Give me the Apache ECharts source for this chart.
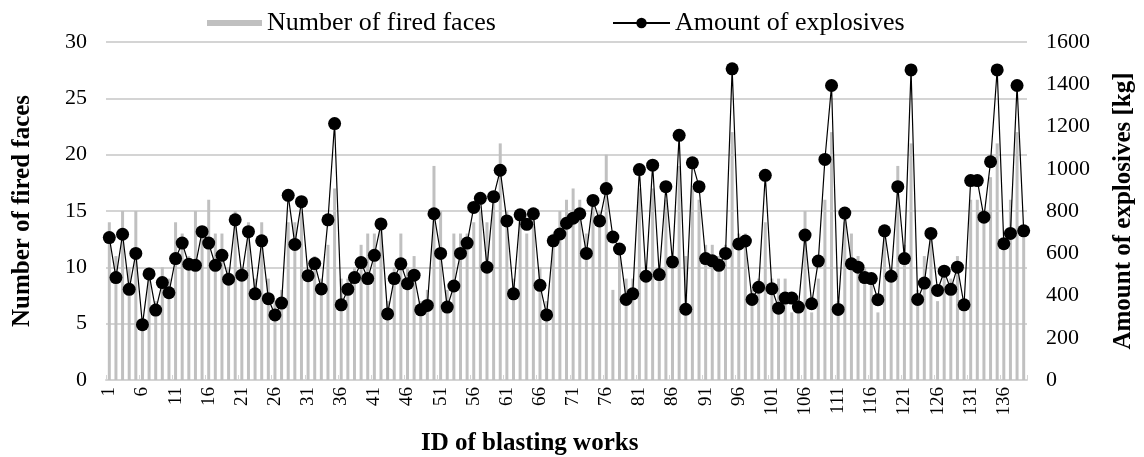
<!DOCTYPE html>
<html>
<head>
<meta charset="utf-8">
<script src="https://cdn.jsdelivr.net/npm/echarts@6/dist/echarts.min.js"></script>
<style>
html,body{margin:0;padding:0;background:#fff;}
#c{width:1144px;height:457px;}
</style>
</head>
<body>
<div id="c"></div>
<script>
// IDs of blasting works
const ids = Array.from({length: 139}, (_, i) => String(i + 1));

// Number of fired faces (left axis)
const firedFaces = [
14,11,15,10,15,5,10,7,10,9,
14,13,11,15,13,16,13,13,10,15,
10,14,9,14,9,7,8,14,14,15,
10,11,9,12,17,9,9,10,12,13,
13,14,7,10,13,10,11,7,8,19,
15,8,13,13,13,14,15,14,16,21,
15,9,15,13,15,10,7,13,15,16,
17,16,13,16,15,20,8,12,9,9,
17,10,17,10,16,11,19,11,17,16,
12,12,11,12,22,13,13,8,9,14,
9,9,9,6,7,15,6,9,16,22,
7,14,13,11,10,9,6,13,10,19,
12,21,8,11,13,7,10,9,11,7,
16,16,14,18,21,12,16,22,13
];

// Amount of explosives [kg] (right axis)
const explosives = [
674,485,690,429,599,262,502,331,461,413,
575,648,548,543,702,648,543,590,477,758,
496,702,408,659,385,308,364,874,642,844,
494,551,431,758,1214,356,429,485,556,480,
590,739,313,480,550,456,496,332,353,787,
599,345,445,599,648,817,860,534,868,993,
753,408,782,737,787,448,308,659,691,742,
766,787,599,850,753,906,677,620,381,408,
996,491,1017,499,915,559,1158,335,1028,915,
575,564,543,599,1473,644,658,381,439,969,
432,340,388,388,345,686,361,563,1044,1394,
334,790,550,534,485,480,380,706,491,915,
575,1468,381,459,694,424,515,429,534,356,
944,944,771,1033,1468,645,694,1394,706
];

const leftTicks = {min: 0, max: 30, interval: 5};
const rightTicks = {min: 0, max: 1600, interval: 200};

const FONT = '"Liberation Serif", "Times New Roman", serif';
const legendText = {fontFamily: FONT, fontSize: 26, color: '#000'};
const chart = echarts.init(document.getElementById('c'), null, {renderer: 'canvas'});
chart.setOption({
  animation: false,
  backgroundColor: '#ffffff',
  textStyle: {fontFamily: FONT, color: '#000'},
  legend: [
    {
      top: 10, left: 207, padding: 0,
      itemWidth: 55, itemHeight: 13,
      textStyle: legendText,
      data: [{name: 'Number of fired faces', icon: 'path://M0,0 H55 V6 H0 Z', itemStyle: {color: '#c0c0c0'}}]
    },
    {
      top: 10, left: 612, padding: 0,
      itemWidth: 57, itemHeight: 13,
      textStyle: legendText,
      data: [{name: 'Amount of explosives'}]
    }
  ],
  grid: {left: 106, right: 113, top: 42, bottom: 77},
  graphic: [{
    type: 'text',
    left: 421, top: 431,
    style: {text: 'ID of blasting works', font: 'bold 25px ' + FONT, fill: '#000'}
  }],
  xAxis: {
    type: 'category',
    data: ids,
    boundaryGap: true,
    axisLine: {show: true, lineStyle: {color: '#d4d4d4', width: 2}},
    axisTick: {show: true, interval: 4, inside: true, length: 5, lineStyle: {color: '#d4d4d4'}},
    axisLabel: {interval: 4, rotate: 90, fontFamily: FONT, fontSize: 19, color: '#000', margin: 7}
  },
  yAxis: [
    {
      type: 'value',
      min: leftTicks.min, max: leftTicks.max, interval: leftTicks.interval,
      axisLine: {show: false}, axisTick: {show: false},
      axisLabel: {fontFamily: FONT, fontSize: 22, color: '#000', margin: 19},
      splitLine: {show: true, lineStyle: {color: '#d4d4d4', width: 2}},
      name: 'Number of fired faces',
      nameLocation: 'middle',
      nameRotate: 90,
      nameGap: 71,
      nameTextStyle: {fontFamily: FONT, fontSize: 25, fontWeight: 'bold', color: '#000'}
    },
    {
      type: 'value',
      min: rightTicks.min, max: rightTicks.max, interval: rightTicks.interval,
      axisLine: {show: false}, axisTick: {show: false},
      axisLabel: {fontFamily: FONT, fontSize: 22, color: '#000', margin: 19, formatter: v => String(v)},
      splitLine: {show: false},
      name: 'Amount of explosives [kg]',
      nameLocation: 'middle',
      nameRotate: 90,
      nameGap: 84,
      nameTextStyle: {fontFamily: FONT, fontSize: 25, fontWeight: 'bold', color: '#000'}
    }
  ],
  series: [
    {
      name: 'Number of fired faces',
      type: 'bar',
      yAxisIndex: 0,
      data: firedFaces,
      barWidth: 3,
      itemStyle: {color: '#c0c0c0'},
      z: 1
    },
    {
      name: 'Amount of explosives',
      type: 'line',
      yAxisIndex: 1,
      data: explosives,
      symbol: 'circle',
      symbolSize: 13,
      showAllSymbol: true,
      itemStyle: {color: '#000'},
      lineStyle: {color: '#000', width: 1.2},
      z: 3
    }
  ]
});
</script>
</body>
</html>
